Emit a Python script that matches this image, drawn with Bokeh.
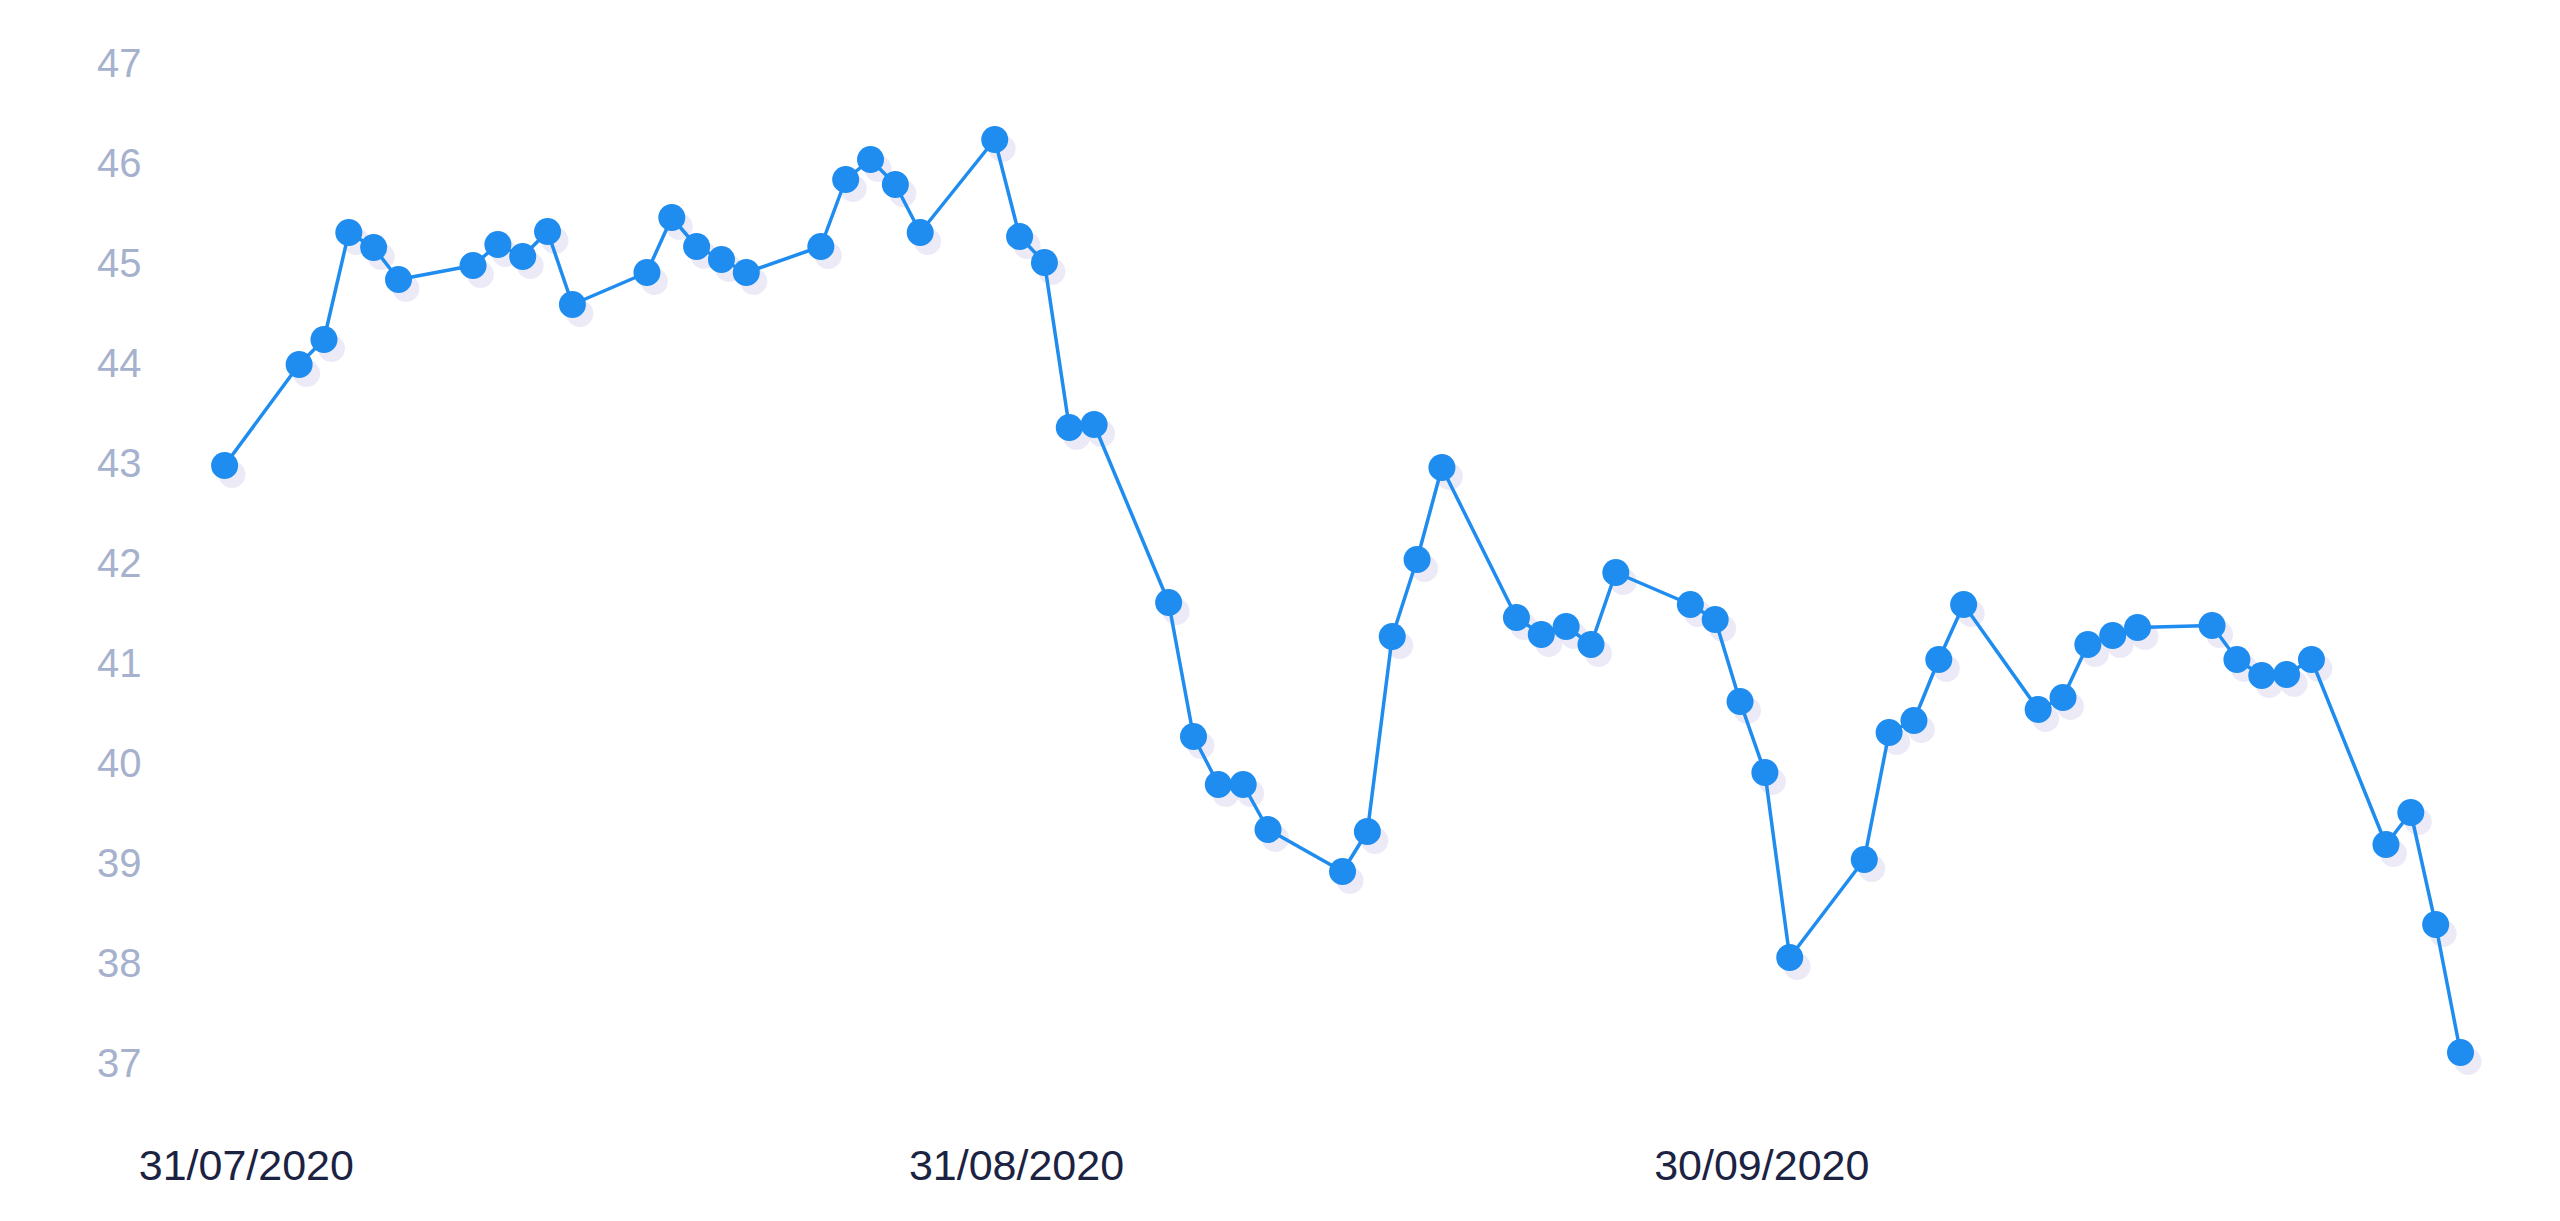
from datetime import datetime, timedelta

from bokeh.plotting import figure
from bokeh.models import FixedTicker, DatetimeTickFormatter, Range1d, ColumnDataSource
from bokeh.transform import dodge
from bokeh.embed import file_html
from bokeh.resources import INLINE

# ---------------- data ----------------
dates = [
    "2020-07-31",
    "2020-08-03", "2020-08-04", "2020-08-05", "2020-08-06", "2020-08-07",
    "2020-08-10", "2020-08-11", "2020-08-12", "2020-08-13", "2020-08-14",
    "2020-08-17", "2020-08-18", "2020-08-19", "2020-08-20", "2020-08-21",
    "2020-08-24", "2020-08-25", "2020-08-26", "2020-08-27", "2020-08-28",
    "2020-08-31", "2020-09-01", "2020-09-02", "2020-09-03", "2020-09-04",
    "2020-09-07", "2020-09-08", "2020-09-09", "2020-09-10", "2020-09-11",
    "2020-09-14", "2020-09-15", "2020-09-16", "2020-09-17", "2020-09-18",
    "2020-09-21", "2020-09-22", "2020-09-23", "2020-09-24", "2020-09-25",
    "2020-09-28", "2020-09-29", "2020-09-30", "2020-10-01", "2020-10-02",
    "2020-10-05", "2020-10-06", "2020-10-07", "2020-10-08", "2020-10-09",
    "2020-10-12", "2020-10-13", "2020-10-14", "2020-10-15", "2020-10-16",
    "2020-10-19", "2020-10-20", "2020-10-21", "2020-10-22", "2020-10-23",
    "2020-10-26", "2020-10-27", "2020-10-28", "2020-10-29",
]

prices = [
    42.97,
    43.98, 44.23, 45.30, 45.15, 44.83,
    44.97, 45.18, 45.06, 45.31, 44.58,
    44.90, 45.45, 45.16, 45.03, 44.90,
    45.16, 45.83, 46.03, 45.78, 45.30,
    46.23, 45.26, 45.00, 43.35, 43.38,
    41.60, 40.26, 39.78, 39.78, 39.33,
    38.91, 39.31, 41.26, 42.03, 42.95,
    41.45, 41.28, 41.36, 41.18, 41.90,
    41.58, 41.43, 40.61, 39.90, 38.05,
    39.03, 40.30, 40.42, 41.03, 41.58,
    40.53, 40.65, 41.18, 41.27, 41.35,
    41.37, 41.03, 40.87, 40.88, 41.03,
    39.18, 39.50, 38.38, 37.10,
]

tick_dates = ["2020-07-31", "2020-08-31", "2020-09-30"]
y_ticks = [37, 38, 39, 40, 41, 42, 43, 44, 45, 46, 47]

# ---------------- helpers ----------------
EPOCH = datetime(1970, 1, 1)


def to_dt(s):
    return datetime.strptime(s, "%Y-%m-%d")


def to_ms(d):
    return (d - EPOCH).total_seconds() * 1000.0


xs = [to_dt(d) for d in dates]
src = ColumnDataSource(dict(x=[to_ms(d) for d in xs], y=prices))

x_start = to_ms(xs[0] - timedelta(days=2.58))
x_end = to_ms(xs[-1] + timedelta(days=3.22))

p = figure(
    width=2544,
    height=1205,
    x_axis_type="datetime",
    x_range=Range1d(x_start, x_end),
    y_range=Range1d(36.63, 47.23),
    output_backend="svg",
    toolbar_location=None,
    min_border_left=160,
    min_border_right=4,
    min_border_top=39,
    min_border_bottom=106,
    background_fill_color="white",
    border_fill_color="white",
)

BLUE = "#1f8cef"

# faint scanned halo under the markers
day_ms = 86400000.0
p.scatter(
    x=dodge("x", 0.3 * day_ms, range=p.x_range),
    y=dodge("y", -0.09, range=p.y_range),
    source=src, size=27, fill_color="#ddd8f0", fill_alpha=0.55, line_color=None,
)

p.line("x", "y", source=src, line_width=3.5, line_color=BLUE)
p.scatter("x", "y", source=src, size=27, fill_color=BLUE, line_color=None)

# ---------------- axes ----------------
label_shift = timedelta(hours=21)
p.xaxis.ticker = FixedTicker(ticks=[to_ms(to_dt(t) + label_shift) for t in tick_dates])
fmt = "%d/%m/%Y"
p.xaxis.formatter = DatetimeTickFormatter(
    milliseconds=fmt, seconds=fmt, minsec=fmt, minutes=fmt, hourmin=fmt,
    hours=fmt, days=fmt, months=fmt, years=fmt,
)
p.xaxis.major_label_text_font = "Liberation Sans"
p.xaxis.major_label_text_font_size = "43px"
p.xaxis.major_label_text_color = "#1c2342"
p.xaxis.major_label_standoff = 35
p.xaxis.axis_line_color = None
p.xaxis.major_tick_line_color = None
p.xaxis.minor_tick_line_color = None

p.yaxis.ticker = FixedTicker(ticks=y_ticks)
p.yaxis.major_label_text_font = "Liberation Sans"
p.yaxis.major_label_text_font_size = "40px"
p.yaxis.major_label_text_color = "#a6b2cd"
p.yaxis.major_label_standoff = 13
p.yaxis.axis_line_color = None
p.yaxis.major_tick_line_color = None
p.yaxis.minor_tick_line_color = None

p.xgrid.grid_line_color = None
p.ygrid.grid_line_color = None
p.outline_line_color = None

open("out.html", "w").write(file_html(p, INLINE))
